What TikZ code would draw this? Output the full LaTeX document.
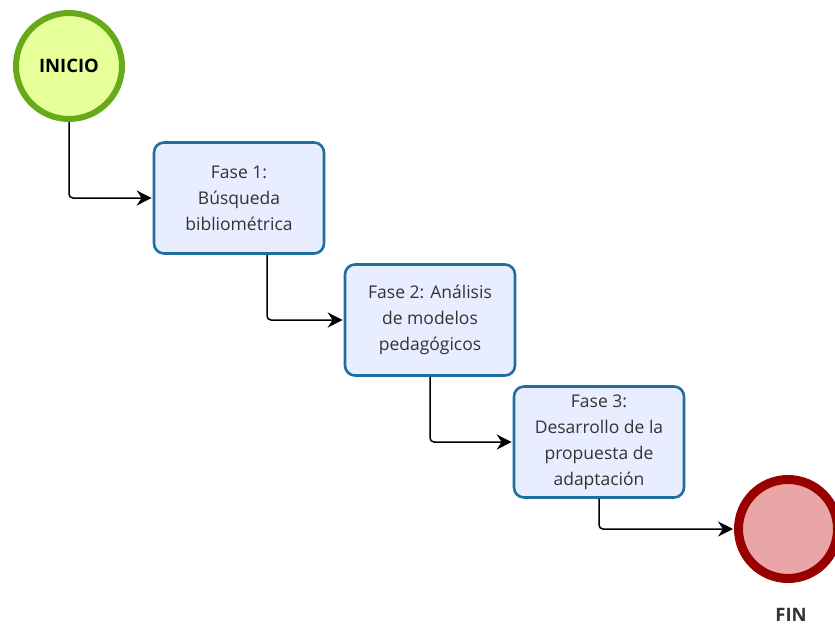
\documentclass[tikz,border=0pt]{standalone}
\usepackage{fontspec}
\setmainfont{Open Sans}
\usetikzlibrary{shapes.geometric, arrows.meta, positioning}
\definecolor{InicioFill}{HTML}{E6FF99}
\definecolor{InicioLine}{HTML}{66AA1A}
\definecolor{FaseFill}{HTML}{E8EEFF}
\definecolor{FaseLine}{HTML}{1F6EA0}
\definecolor{FinFill}{HTML}{EAA6A6}
\definecolor{FinLine}{HTML}{990000}
\definecolor{TextGray}{HTML}{333333}

\begin{document}
\begin{tikzpicture}[x=1pt, y=-1pt, >=Stealth,
        fase/.style={rectangle, draw=FaseLine, fill=FaseFill, line width=2.6pt, rounded corners=10pt, minimum width=170pt, minimum height=111pt, align=center, text=TextGray, font=\fontsize{17.5}{26}\selectfont},
        inicio/.style={circle, draw=InicioLine, fill=InicioFill, line width=6pt, minimum size=106pt, font=\fontsize{18.5}{20}\selectfont\bfseries},
        fin/.style={circle, draw=FinLine, fill=FinFill, line width=9pt, minimum size=99pt},
        arrow/.style={->, line width=1.5pt, rounded corners=4pt, shorten >=1pt, arrows={-Stealth[length=15pt, width=15pt]}}]
        \useasboundingbox (0,0) rectangle (835,626);

        \node[inicio] (inicio) at (69,66) {INICIO};
        \node[fase] (f1) at (239,198) {Fase 1:\\Búsqueda\\bibliométrica};
        \node[fase] (f2) at (430,320) {Fase 2: Análisis\\de modelos\\pedagógicos};
        \node[fase] (f3) at (599,442) {Fase 3:\\Desarrollo de la\\propuesta de\\adaptación};
        \node[fin] (fin) at (788,529) {};
        \node[inner sep=0pt, font=\fontsize{18.5}{20}\selectfont\bfseries, text=TextGray] (finlabel) at (791,615) {FIN};

        \draw[arrow] (inicio.south) |- (f1.west);
        \draw[arrow] ([xshift=28pt]f1.south) |- (f2.west);
        \draw[arrow] (f2.south) |- (f3.west);
        \draw[arrow] (f3.south) |- (fin.west);
    \end{tikzpicture}
\end{document}
